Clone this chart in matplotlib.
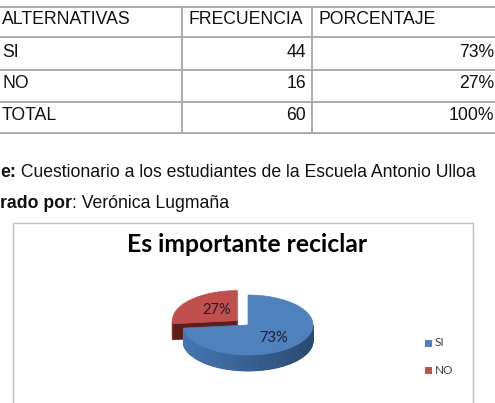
import numpy as np
import matplotlib
matplotlib.use("Agg")
import matplotlib.pyplot as plt
from matplotlib.patches import Polygon, Rectangle
from matplotlib.colors import to_rgb

# datos de la tabla
alternativas = ["SI", "NO"]
frecuencia = [44, 16]
porcentaje = ["73%", "27%"]
total_frec = 60
total_pct = "100%"
encabezados = ["ALTERNATIVAS", "FRECUENCIA", "PORCENTAJE"]
titulo = "Es importante reciclar"
fuente = ("e:", " Cuestionario a los estudiantes de la Escuela Antonio Ulloa")
elaborado = ("rado por", ": Verónica Lugmaña")

colores_top = ["#4F81BD", "#C0504D"]
colores_lado = [("#4576B2", "#2A4A72"), ("#7A2A28", "#5E1E1C")]

W, H = 495, 403
fig = plt.figure(figsize=(W / 100, H / 100), dpi=100)
ax = fig.add_axes([0, 0, 1, 1])
ax.set_xlim(0, W)
ax.set_ylim(H, 0)
ax.axis("off")

# --- tabla ---
gris = "#a6a6a6"
for y in [7, 37, 70, 102, 133]:
    ax.plot([0, W], [y, y], color=gris, lw=1.3, solid_capstyle="butt")
for x in [182, 312]:
    ax.plot([x, x], [7, 133], color=gris, lw=1.3)

tfont = dict(family="Liberation Sans", fontsize=12.7, color="#111111", va="baseline")
ax.text(2, 24, encabezados[0], **tfont)
ax.text(188, 24, encabezados[1], **tfont)
ax.text(318, 24, encabezados[2], **tfont)
filas = [(alternativas[i], frecuencia[i], porcentaje[i]) for i in range(len(alternativas))]
filas.append(("TOTAL", total_frec, total_pct))
for k, (alt, f, p) in enumerate(filas):
    yb = 57 + k * 31.5
    ax.text(2, yb, alt, **tfont)
    ax.text(306, yb, str(f), ha="right", **tfont)
    ax.text(494, yb, p, ha="right", **tfont)

# --- lineas de fuente ---
fig.canvas.draw()
r = fig.canvas.get_renderer()
inv = ax.transData.inverted()
for (negrita, normal), yb in [(fuente, 177), (elaborado, 208)]:
    t1 = ax.text(0, yb, negrita, fontweight="bold", **tfont)
    bb = t1.get_window_extent(renderer=r)
    x_fin = inv.transform((bb.x1, bb.y0))[0]
    ax.text(x_fin, yb, normal, **tfont)

# --- cuadro del grafico ---
ax.plot([13, 13, 473, 473], [410, 223, 223, 410], color="#bfbfbf", lw=1)
ax.text(247, 252, titulo, family="Lato", fontweight="bold", fontsize=17.8,
        ha="center", va="baseline", color="#000000")

# --- pastel 3D ---
cx, cy, a, b, prof = 248, 325, 65, 30, 16
explode = [0.0, 0.22]
fr = np.array(frecuencia) / sum(frecuencia)
ang = [90.0]
for v in fr:
    ang.append(ang[-1] - 360 * v)


def punto(t, ox, oy, dz=0.0):
    tr = np.radians(t)
    return cx + ox + a * np.cos(tr), cy + oy - b * np.sin(tr) + dz


def mezcla(c1, c2, s):
    c1, c2 = np.array(to_rgb(c1)), np.array(to_rgb(c2))
    return tuple(c1 + (c2 - c1) * s)


etiquetas = []
for i in reversed(range(len(fr))):
    t1, t2 = ang[i + 1], ang[i]
    mid = (t1 + t2) / 2
    ox = explode[i] * a * np.cos(np.radians(mid))
    oy = -explode[i] * b * np.sin(np.radians(mid))
    c_claro, c_oscuro = colores_lado[i]
    # paredes radiales visibles
    for t, normal in [(t1, t1 - 90), (t2, t2 + 90)]:
        if np.sin(np.radians(normal)) < -1e-6:
            p0 = (cx + ox, cy + oy)
            p1 = punto(t, ox, oy)
            poly = [p0, p1, (p1[0], p1[1] + prof), (p0[0], p0[1] + prof)]
            ax.add_patch(Polygon(poly, closed=True, fc=c_oscuro, ec=c_oscuro, lw=0.5))
    # cara lateral
    ts = np.linspace(t1, t2, 200)
    for j in range(len(ts) - 1):
        m = (ts[j] + ts[j + 1]) / 2
        if np.sin(np.radians(m)) < 0:
            s = (np.cos(np.radians(m)) + 1) / 2
            col = mezcla(c_claro, c_oscuro, s)
            pa, pb = punto(ts[j], ox, oy), punto(ts[j + 1], ox, oy)
            poly = [pa, pb, (pb[0], pb[1] + prof), (pa[0], pa[1] + prof)]
            ax.add_patch(Polygon(poly, closed=True, fc=col, ec=col, lw=0.6))
    # cara superior
    xs, ys = punto(ts, ox, oy)
    pts = [(cx + ox, cy + oy)] + list(zip(xs, ys))
    ax.add_patch(Polygon(pts, closed=True, fc=colores_top[i], ec=colores_top[i], lw=0.5))
    rl = 0.52 if explode[i] == 0 else 0.42
    lx, ly = punto(mid, ox, oy)
    lx = cx + ox + rl * (lx - cx - ox)
    ly = cy + oy + rl * (ly - cy - oy) + (3 if explode[i] == 0 else -2)
    etiquetas.append((lx, ly, porcentaje[i]))

for lx, ly, txt in etiquetas:
    ax.text(lx, ly, txt, family="Lato", fontsize=10.5, ha="center", va="center",
            color="#1f1f33")

# --- leyenda ---
for i, cat in enumerate(alternativas):
    yl = 343 + i * 27
    ax.add_patch(Rectangle((425, yl - 3.5), 7, 7, fc=colores_top[i], ec="none"))
    ax.text(435, yl, cat, family="Lato", fontsize=8.5, va="center", color="#404040")

fig.savefig("out.png", dpi=100)
